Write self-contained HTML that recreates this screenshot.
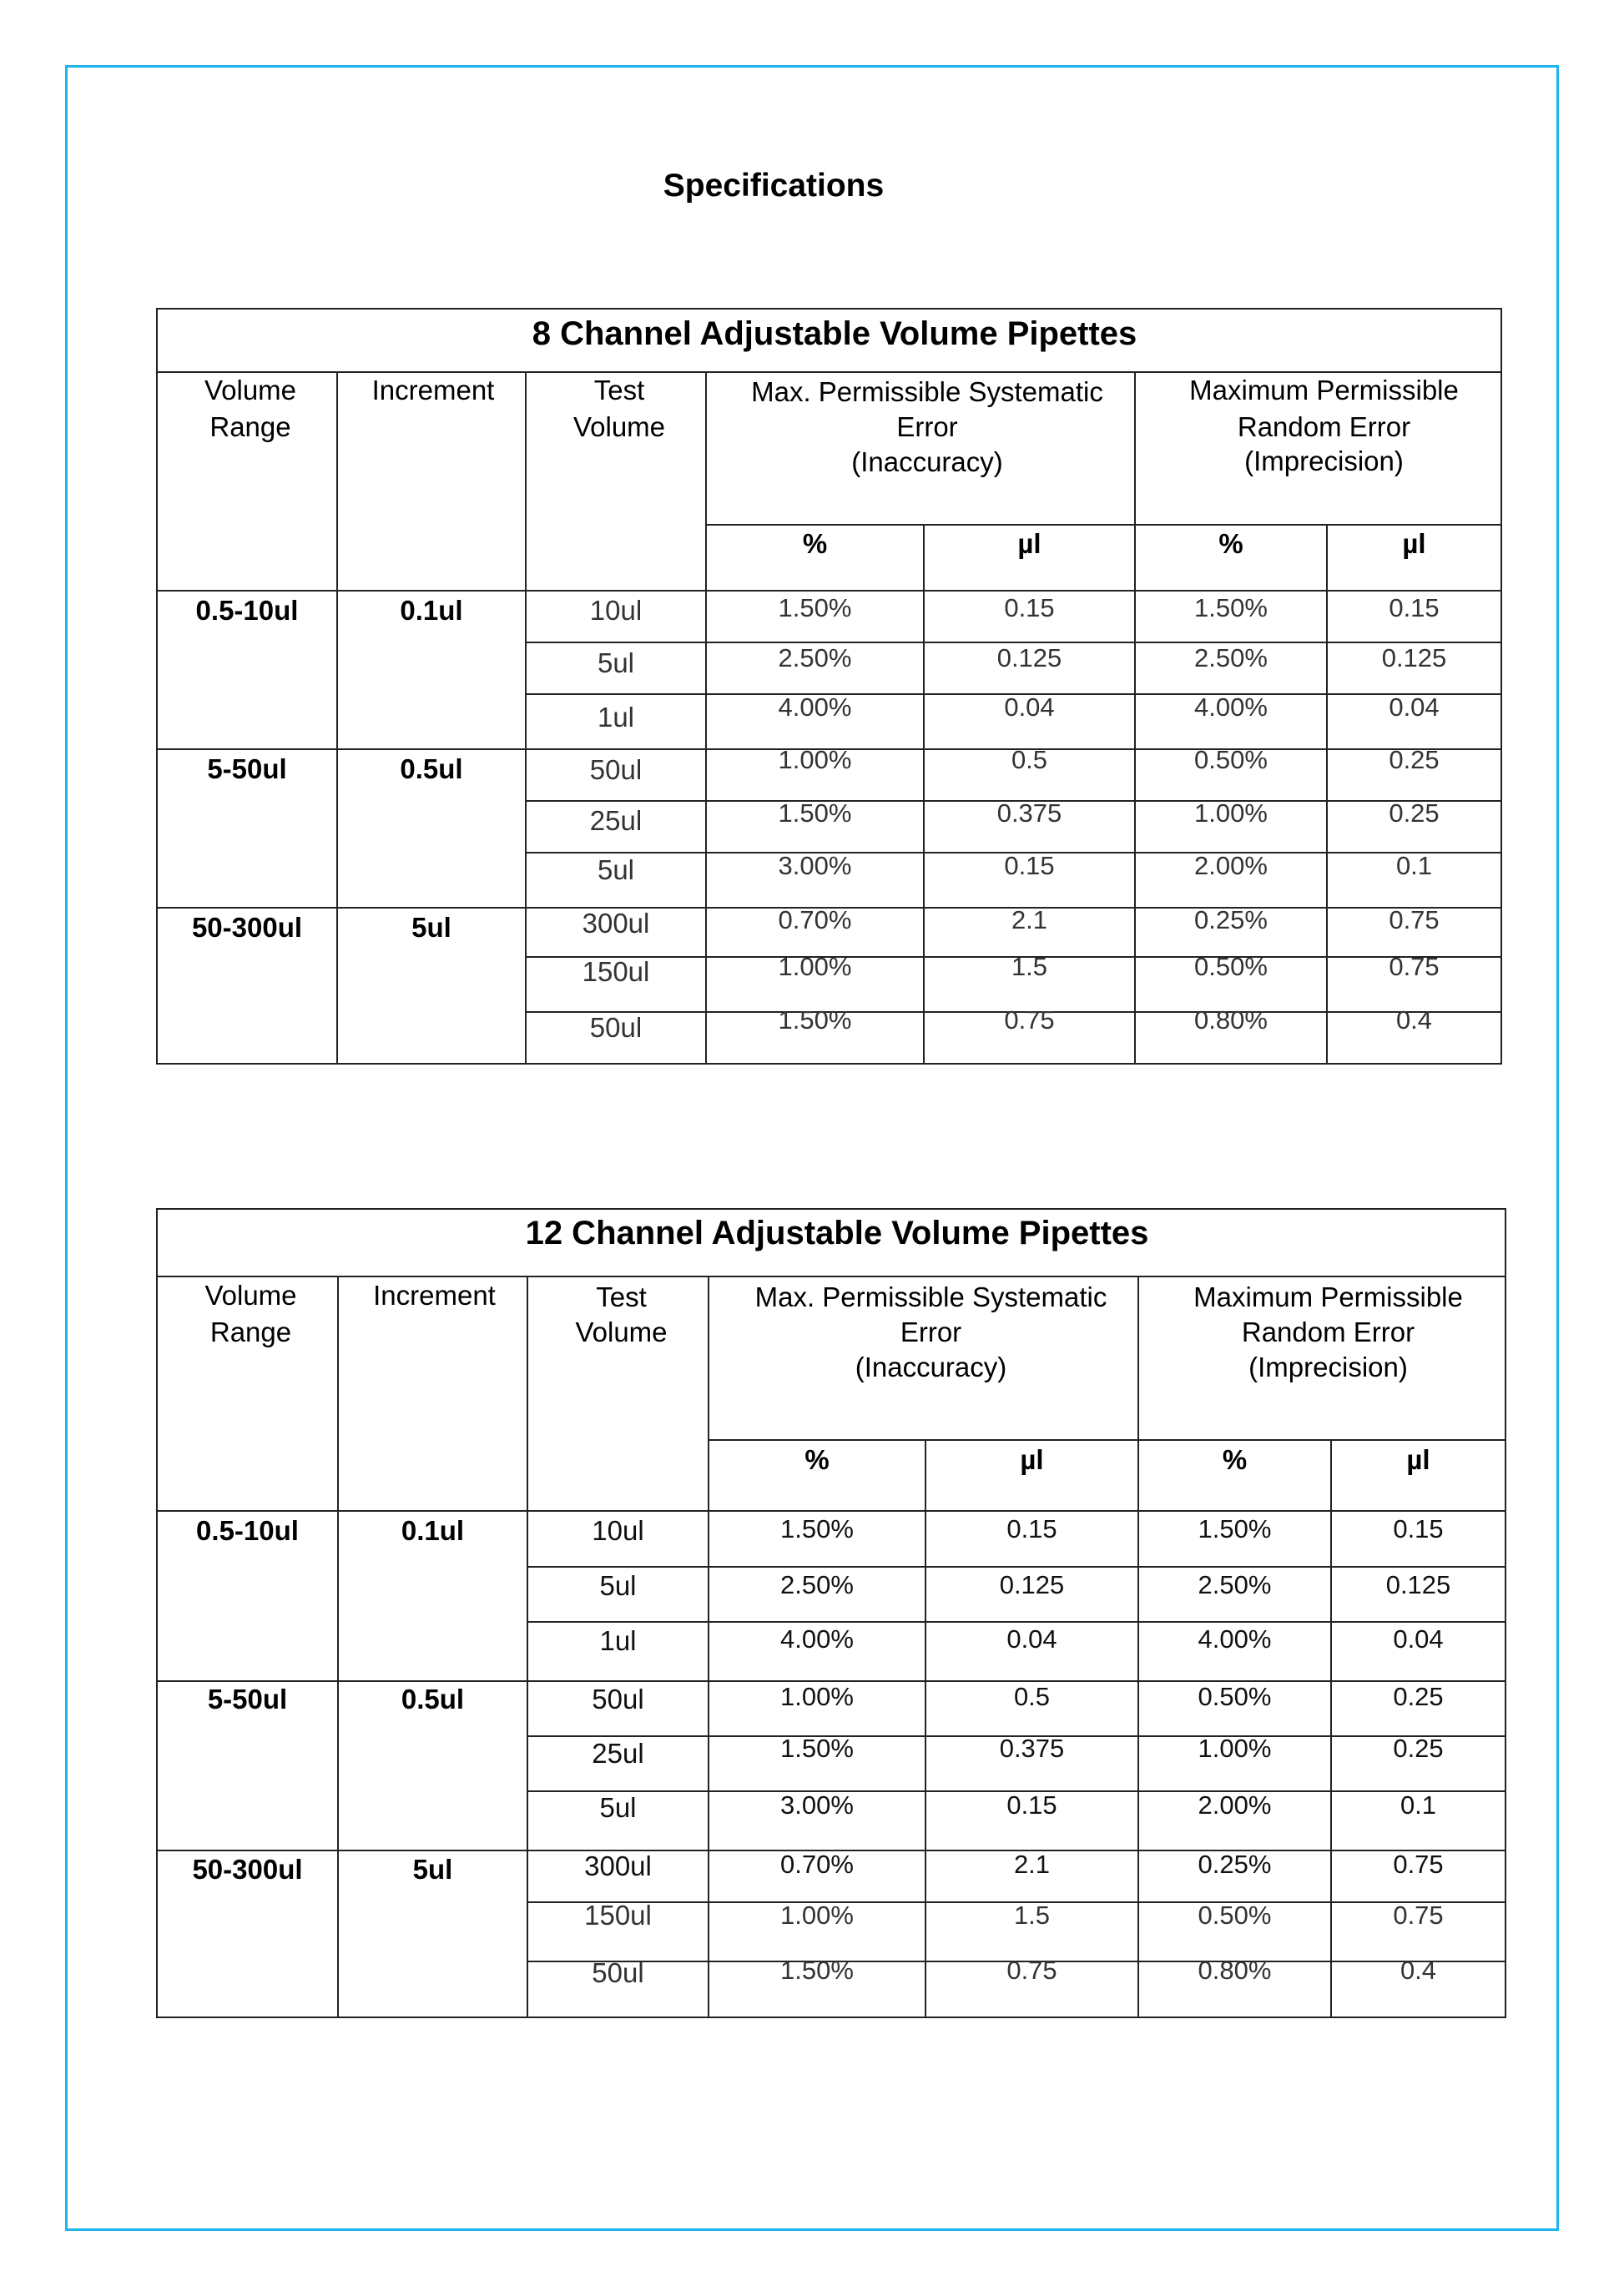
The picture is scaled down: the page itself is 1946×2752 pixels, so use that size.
<!DOCTYPE html>
<html>
<head>
<meta charset="utf-8">
<style>
html,body{margin:0;padding:0;background:#fff;}
#pg{position:relative;width:1946px;height:2752px;overflow:hidden;background:#fff;font-family:"Liberation Sans",Arial,sans-serif;color:#000;}
.frame{position:absolute;left:78px;top:78px;width:1790px;height:2596px;box-sizing:border-box;border:3px solid #1cb4ea;}
.rect{position:absolute;box-sizing:border-box;border:2px solid #222;}
.h{position:absolute;height:2px;background:#222;}
.vl{position:absolute;width:2px;background:#222;}
.t{position:absolute;height:40px;line-height:40px;text-align:center;white-space:nowrap;font-family:"Liberation Sans",Arial,sans-serif;}
.hd{font-size:33px;color:#000;}
.b{font-size:33px;font-weight:bold;color:#000;}
.v{font-size:31px;color:#333;}
.vr{font-size:31px;color:#111;}
.tv{font-size:33px !important;}
.ttl{position:absolute;height:50px;line-height:50px;text-align:center;white-space:nowrap;font-weight:bold;font-size:40px;}
/* table 1 columns */
.x1a{left:188px;width:216px}.x1b{left:404px;width:226px}.x1c{left:630px;width:216px}
.x1d{left:846px;width:261px}.x1e{left:1107px;width:253px}.x1f{left:1360px;width:230px}.x1g{left:1590px;width:209px}
.x1s{left:854px;width:514px}.x1r{left:1367px;width:439px}
.h1a{left:192px;width:216px}.h1b{left:406px;width:226px}.h1c{left:634px;width:216px}
/* table 2 columns */
.x2a{left:188px;width:217px}.x2b{left:405px;width:227px}.x2c{left:632px;width:217px}
.x2d{left:849px;width:260px}.x2e{left:1109px;width:255px}.x2f{left:1364px;width:231px}.x2g{left:1595px;width:209px}
.x2s{left:858px;width:515px}.x2r{left:1371px;width:441px}
.h2a{left:192px;width:217px}.h2b{left:407px;width:227px}.h2c{left:636px;width:217px}
</style>
</head>
<body>
<div id="pg">
<div class="frame"></div>

<div class="ttl" style="left:727px;width:400px;top:198px;font-size:39px;">Specifications</div>

<!-- ================= TABLE 1 ================= -->
<div class="rect" style="left:187px;top:369px;width:1613px;height:907px;"></div>
<div class="h" style="left:187px;width:1613px;top:445px;"></div>
<div class="h" style="left:187px;width:1613px;top:707px;"></div>
<div class="h" style="left:187px;width:1613px;top:897px;"></div>
<div class="h" style="left:187px;width:1613px;top:1087px;"></div>
<div class="h" style="left:629px;width:1171px;top:769px;"></div>
<div class="h" style="left:629px;width:1171px;top:831px;"></div>
<div class="h" style="left:629px;width:1171px;top:959px;"></div>
<div class="h" style="left:629px;width:1171px;top:1021px;"></div>
<div class="h" style="left:629px;width:1171px;top:1146px;"></div>
<div class="h" style="left:629px;width:1171px;top:1212px;"></div>
<div class="h" style="left:845px;width:955px;top:628px;"></div>
<div class="vl" style="left:403px;top:445px;height:831px;"></div>
<div class="vl" style="left:629px;top:445px;height:831px;"></div>
<div class="vl" style="left:845px;top:445px;height:831px;"></div>
<div class="vl" style="left:1359px;top:445px;height:831px;"></div>
<div class="vl" style="left:1106px;top:628px;height:648px;"></div>
<div class="vl" style="left:1589px;top:628px;height:648px;"></div>

<div class="ttl" style="left:600px;width:800px;top:375px;">8 Channel Adjustable Volume Pipettes</div>

<div class="t hd h1a" style="top:448px;">Volume</div>
<div class="t hd h1a" style="top:492px;">Range</div>
<div class="t hd h1b" style="top:448px;">Increment</div>
<div class="t hd h1c" style="top:448px;">Test</div>
<div class="t hd h1c" style="top:492px;">Volume</div>
<div class="t hd x1s" style="top:450px;">Max. Permissible Systematic</div>
<div class="t hd x1s" style="top:492px;">Error</div>
<div class="t hd x1s" style="top:534px;">(Inaccuracy)</div>
<div class="t hd x1r" style="top:448px;">Maximum Permissible</div>
<div class="t hd x1r" style="top:492px;">Random Error</div>
<div class="t hd x1r" style="top:533px;">(Imprecision)</div>
<div class="t b x1d" style="top:632px;">%</div>
<div class="t b x1e" style="top:632px;">µl</div>
<div class="t b x1f" style="top:632px;">%</div>
<div class="t b x1g" style="top:632px;">µl</div>

<div class="t b x1a" style="top:712px;">0.5-10ul</div>
<div class="t b x1b" style="top:712px;">0.1ul</div>
<div class="t b x1a" style="top:902px;">5-50ul</div>
<div class="t b x1b" style="top:902px;">0.5ul</div>
<div class="t b x1a" style="top:1092px;">50-300ul</div>
<div class="t b x1b" style="top:1092px;">5ul</div>

<div class="t v tv x1c" style="top:712px;">10ul</div>
<div class="t v tv x1c" style="top:775px;">5ul</div>
<div class="t v tv x1c" style="top:840px;">1ul</div>
<div class="t v tv x1c" style="top:903px;">50ul</div>
<div class="t v tv x1c" style="top:964px;">25ul</div>
<div class="t v tv x1c" style="top:1023px;">5ul</div>
<div class="t v tv x1c" style="top:1087px;">300ul</div>
<div class="t v tv x1c" style="top:1145px;">150ul</div>
<div class="t v tv x1c" style="top:1212px;">50ul</div>

<div class="t v x1d" style="top:709px;">1.50%</div><div class="t v x1e" style="top:709px;">0.15</div><div class="t v x1f" style="top:709px;">1.50%</div><div class="t v x1g" style="top:709px;">0.15</div>
<div class="t v x1d" style="top:769px;">2.50%</div><div class="t v x1e" style="top:769px;">0.125</div><div class="t v x1f" style="top:769px;">2.50%</div><div class="t v x1g" style="top:769px;">0.125</div>
<div class="t v x1d" style="top:828px;">4.00%</div><div class="t v x1e" style="top:828px;">0.04</div><div class="t v x1f" style="top:828px;">4.00%</div><div class="t v x1g" style="top:828px;">0.04</div>
<div class="t v x1d" style="top:891px;">1.00%</div><div class="t v x1e" style="top:891px;">0.5</div><div class="t v x1f" style="top:891px;">0.50%</div><div class="t v x1g" style="top:891px;">0.25</div>
<div class="t v x1d" style="top:955px;">1.50%</div><div class="t v x1e" style="top:955px;">0.375</div><div class="t v x1f" style="top:955px;">1.00%</div><div class="t v x1g" style="top:955px;">0.25</div>
<div class="t v x1d" style="top:1018px;">3.00%</div><div class="t v x1e" style="top:1018px;">0.15</div><div class="t v x1f" style="top:1018px;">2.00%</div><div class="t v x1g" style="top:1018px;">0.1</div>
<div class="t v x1d" style="top:1083px;">0.70%</div><div class="t v x1e" style="top:1083px;">2.1</div><div class="t v x1f" style="top:1083px;">0.25%</div><div class="t v x1g" style="top:1083px;">0.75</div>
<div class="t v x1d" style="top:1139px;">1.00%</div><div class="t v x1e" style="top:1139px;">1.5</div><div class="t v x1f" style="top:1139px;">0.50%</div><div class="t v x1g" style="top:1139px;">0.75</div>
<div class="t v x1d" style="top:1203px;">1.50%</div><div class="t v x1e" style="top:1203px;">0.75</div><div class="t v x1f" style="top:1203px;">0.80%</div><div class="t v x1g" style="top:1203px;">0.4</div>

<!-- ================= TABLE 2 ================= -->
<div class="rect" style="left:187px;top:1448px;width:1618px;height:971px;"></div>
<div class="h" style="left:187px;width:1618px;top:1529px;"></div>
<div class="h" style="left:187px;width:1618px;top:1810px;"></div>
<div class="h" style="left:187px;width:1618px;top:2014px;"></div>
<div class="h" style="left:187px;width:1618px;top:2217px;"></div>
<div class="h" style="left:631px;width:1174px;top:1877px;"></div>
<div class="h" style="left:631px;width:1174px;top:1943px;"></div>
<div class="h" style="left:631px;width:1174px;top:2080px;"></div>
<div class="h" style="left:631px;width:1174px;top:2146px;"></div>
<div class="h" style="left:631px;width:1174px;top:2279px;"></div>
<div class="h" style="left:631px;width:1174px;top:2350px;"></div>
<div class="h" style="left:848px;width:957px;top:1725px;"></div>
<div class="vl" style="left:404px;top:1529px;height:890px;"></div>
<div class="vl" style="left:631px;top:1529px;height:890px;"></div>
<div class="vl" style="left:848px;top:1529px;height:890px;"></div>
<div class="vl" style="left:1363px;top:1529px;height:890px;"></div>
<div class="vl" style="left:1108px;top:1725px;height:694px;"></div>
<div class="vl" style="left:1594px;top:1725px;height:694px;"></div>

<div class="ttl" style="left:603px;width:800px;top:1453px;">12 Channel Adjustable Volume Pipettes</div>

<div class="t hd h2a" style="top:1533px;">Volume</div>
<div class="t hd h2a" style="top:1577px;">Range</div>
<div class="t hd h2b" style="top:1533px;">Increment</div>
<div class="t hd h2c" style="top:1535px;">Test</div>
<div class="t hd h2c" style="top:1577px;">Volume</div>
<div class="t hd x2s" style="top:1535px;">Max. Permissible Systematic</div>
<div class="t hd x2s" style="top:1577px;">Error</div>
<div class="t hd x2s" style="top:1619px;">(Inaccuracy)</div>
<div class="t hd x2r" style="top:1535px;">Maximum Permissible</div>
<div class="t hd x2r" style="top:1577px;">Random Error</div>
<div class="t hd x2r" style="top:1619px;">(Imprecision)</div>
<div class="t b x2d" style="top:1730px;">%</div>
<div class="t b x2e" style="top:1730px;">µl</div>
<div class="t b x2f" style="top:1730px;">%</div>
<div class="t b x2g" style="top:1730px;">µl</div>

<div class="t b x2a" style="top:1815px;">0.5-10ul</div>
<div class="t b x2b" style="top:1815px;">0.1ul</div>
<div class="t b x2a" style="top:2017px;">5-50ul</div>
<div class="t b x2b" style="top:2017px;">0.5ul</div>
<div class="t b x2a" style="top:2221px;">50-300ul</div>
<div class="t b x2b" style="top:2221px;">5ul</div>

<div class="t vr tv x2c" style="top:1815px;">10ul</div>
<div class="t vr tv x2c" style="top:1881px;">5ul</div>
<div class="t vr tv x2c" style="top:1947px;">1ul</div>
<div class="t vr tv x2c" style="top:2017px;">50ul</div>
<div class="t vr tv x2c" style="top:2082px;">25ul</div>
<div class="t vr tv x2c" style="top:2147px;">5ul</div>
<div class="t vr tv x2c" style="top:2217px;">300ul</div>
<div class="t v tv x2c" style="top:2276px;">150ul</div>
<div class="t v tv x2c" style="top:2345px;">50ul</div>

<div class="t vr x2d" style="top:1813px;">1.50%</div><div class="t vr x2e" style="top:1813px;">0.15</div><div class="t vr x2f" style="top:1813px;">1.50%</div><div class="t vr x2g" style="top:1813px;">0.15</div>
<div class="t vr x2d" style="top:1880px;">2.50%</div><div class="t vr x2e" style="top:1880px;">0.125</div><div class="t vr x2f" style="top:1880px;">2.50%</div><div class="t vr x2g" style="top:1880px;">0.125</div>
<div class="t vr x2d" style="top:1945px;">4.00%</div><div class="t vr x2e" style="top:1945px;">0.04</div><div class="t vr x2f" style="top:1945px;">4.00%</div><div class="t vr x2g" style="top:1945px;">0.04</div>
<div class="t vr x2d" style="top:2014px;">1.00%</div><div class="t vr x2e" style="top:2014px;">0.5</div><div class="t vr x2f" style="top:2014px;">0.50%</div><div class="t vr x2g" style="top:2014px;">0.25</div>
<div class="t vr x2d" style="top:2076px;">1.50%</div><div class="t vr x2e" style="top:2076px;">0.375</div><div class="t vr x2f" style="top:2076px;">1.00%</div><div class="t vr x2g" style="top:2076px;">0.25</div>
<div class="t vr x2d" style="top:2144px;">3.00%</div><div class="t vr x2e" style="top:2144px;">0.15</div><div class="t vr x2f" style="top:2144px;">2.00%</div><div class="t vr x2g" style="top:2144px;">0.1</div>
<div class="t vr x2d" style="top:2215px;">0.70%</div><div class="t vr x2e" style="top:2215px;">2.1</div><div class="t vr x2f" style="top:2215px;">0.25%</div><div class="t vr x2g" style="top:2215px;">0.75</div>
<div class="t v x2d" style="top:2276px;">1.00%</div><div class="t v x2e" style="top:2276px;">1.5</div><div class="t v x2f" style="top:2276px;">0.50%</div><div class="t v x2g" style="top:2276px;">0.75</div>
<div class="t v x2d" style="top:2342px;">1.50%</div><div class="t v x2e" style="top:2342px;">0.75</div><div class="t v x2f" style="top:2342px;">0.80%</div><div class="t v x2g" style="top:2342px;">0.4</div>

</div>
</body>
</html>
